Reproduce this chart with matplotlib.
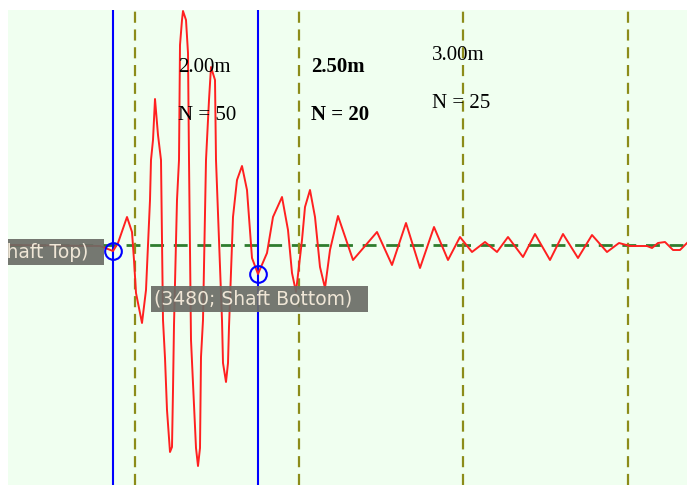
import numpy as np
import matplotlib.pyplot as plt

# pile integrity trace: sample index vs. amplitude
samples = [-2520, -312, 0, 120, 336, 456, 504, 552, 696, 792, 888, 912, 960,
           1008, 1080, 1152, 1200, 1248, 1296, 1368, 1416, 1440, 1464, 1536,
           1584, 1608, 1656, 1680, 1752, 1800, 1824, 1872, 1944, 1992, 2040,
           2088, 2112, 2160, 2232, 2304, 2352, 2448, 2472, 2616, 2640, 2712,
           2760, 2784, 2880, 2976, 3096, 3216, 3336, 3480, 3696, 3840, 4056,
           4200, 4296, 4392, 4536, 4608, 4728, 4848, 4968, 5088, 5208, 5400,
           5760, 6336, 6696, 7032, 7368, 7704, 8040, 8328, 8616, 8928, 9216,
           9480, 9840, 10128, 10488, 10800, 11160, 11496, 11856, 12144, 12408,
           12816, 12936, 13080, 13248, 13440, 13608, 13776]
amplitude = [0, -1, -6, 2, 28, 13, -15, -48, -78, -45, 45, 85, 105,
             146, 110, 85, -75, -113, -165, -207, -202, -145, -80, 45,
             85, 200, 225, 234, 225, 192, 85, -95, -160, -203, -221,
             -203, -112, -75, 85, 145, 178, 165, 85, -75, -118, -137,
             -118, -82, 28, 65, 79, 55, -13, -29, -8, 28, 48,
             15, -28, -47, 5, 38, 55, 28, -22, -43, -5, 29,
             -15, 13, -20, 22, -23, 18, -15, 8, -7, 3, -7,
             8, -12, 11, -15, 11, -13, 10, -7, 2, -1,
             -1, -3, 2, 3, -5, -5, 2]

shaft_x = [0, 3480]
shaft_y = [-6, -29]
shaft_names = ['Shaft Top', 'Shaft Bottom']

depth_x = [528, 4464, 8400, 12360]

layer_x = [1560, 4752, 7656]
layer_depth = ['2.00m', '2.50m', '3.00m']
layer_n = [50, 20, 25]
layer_top = [173, 173, 185]
layer_bot = [125, 125, 137]
layer_bold = [False, True, False]

fig = plt.figure(figsize=(6.87, 4.87), dpi=100)
ax = fig.add_axes([8 / 687, 2 / 487, 679 / 687, 475 / 487])
ax.set_facecolor('#f0fff0')

ax.plot(samples, amplitude, color='#ff2020', lw=1.4, zorder=3)
ax.axhline(0, color='#2e7d2e', lw=2, dashes=(5, 3.5), zorder=2)

for x in depth_x:
    ax.axvline(x, color='#8c8c1a', lw=1.6, dashes=(5, 3), zorder=2)
for x in shaft_x:
    ax.axvline(x, color='#0000ff', lw=1.5, zorder=2)

ax.plot(shaft_x, shaft_y, 'o', ms=12, mfc='none', mec='#0000ff', mew=1.5, zorder=4)

# marker labels, gray boxes
box = dict(boxstyle='square,pad=0.2', fc='#6b6d66', ec='none', alpha=0.92)
ax.text(shaft_x[0] - 312, shaft_y[0] - 1, f'({shaft_x[0]}; {shaft_names[0]})  ',
        ha='right', va='center', fontsize=13.5, color='#efe6d6', bbox=box,
        zorder=5, clip_on=True)
ax.text(shaft_x[1] + 36, shaft_y[1] - 25, f'({shaft_x[1]}; {shaft_names[1]})  ',
        ha='center', va='center', fontsize=13.5, color='#efe6d6', bbox=box,
        zorder=5, clip_on=True)

for x, d, n, yt, yb, b in zip(layer_x, layer_depth, layer_n, layer_top, layer_bot, layer_bold):
    w = 'bold' if b else 'normal'
    ax.text(x, yt, d, family='Liberation Serif', fontsize=15, weight=w,
            va='baseline', zorder=6)
    ax.text(x, yb, f'N = {n}', family='Liberation Serif', fontsize=15, weight=w,
            va='baseline', zorder=6)

ax.set_xlim(-2520, 13776)
ax.set_ylim(-240, 235)
ax.set_xticks([])
ax.set_yticks([])
for s in ax.spines.values():
    s.set_visible(False)

fig.savefig('out.png', dpi=100, facecolor='white')
